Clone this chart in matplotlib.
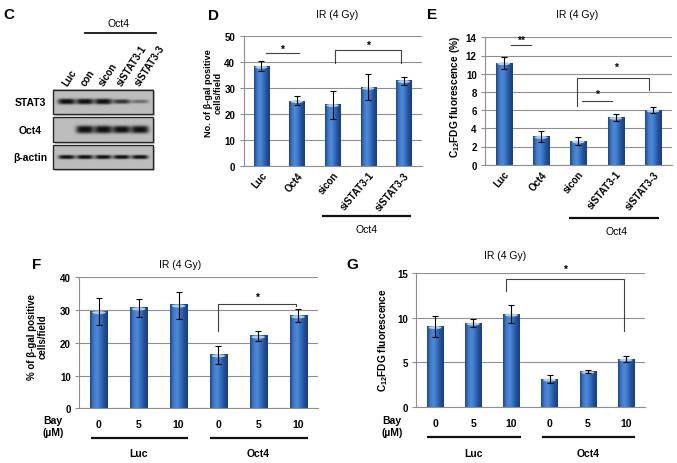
import numpy as np
import matplotlib
matplotlib.use("Agg")
import matplotlib.pyplot as plt
from matplotlib.colors import LinearSegmentedColormap
from matplotlib.patches import Ellipse, Rectangle
import matplotlib.transforms as mtransforms

plt.rcParams['font.family'] = ['Liberation Sans', 'DejaVu Sans']
plt.rcParams['mathtext.fontset'] = 'custom'
plt.rcParams['mathtext.rm'] = 'Liberation Sans'
plt.rcParams['mathtext.bf'] = 'Liberation Sans:bold'

# Daten
d_labels = ['Luc', 'Oct4', 'sicon', 'siSTAT3-1', 'siSTAT3-3']
d_vals = [38.2, 25.0, 23.5, 30.1, 32.7]
d_err = [1.9, 1.8, 5.4, 5.0, 1.6]

e_labels = ['Luc', 'Oct4', 'sicon', 'siSTAT3-1', 'siSTAT3-3']
e_vals = [11.2, 3.1, 2.6, 5.2, 6.0]
e_err = [0.65, 0.65, 0.4, 0.35, 0.35]

bay_doses = ['0', '5', '10', '0', '5', '10']
groups = ['Luc', 'Oct4']
f_vals = [29.5, 30.6, 31.5, 16.3, 22.0, 28.2]
f_err = [4.1, 2.8, 4.1, 2.8, 1.6, 2.0]
g_vals = [9.0, 9.4, 10.4, 3.1, 3.95, 5.35]
g_err = [1.2, 0.45, 1.0, 0.45, 0.15, 0.33]

# Western Blot (relative Bandenstaerke)
blot_lanes = ['Luc', 'con', 'sicon', 'siSTAT3-1', 'siSTAT3-3']
blot_rows = ['STAT3', 'Oct4', 'β-actin']
stat3_band = [1.0, 1.0, 1.0, 0.6, 0.35]
oct4_band = [0.0, 1.0, 1.0, 0.9, 0.95]
actin_band = [0.9, 0.9, 0.9, 0.9, 0.9]

W, H = 677, 464
fig = plt.figure(figsize=(W / 100, H / 100), dpi=100)
fig.patch.set_facecolor('white')


def px(x, y):
    return x / W, 1 - y / H


def ftext(x, y, s, **kw):
    fig.text(*px(x, y), s, **kw)


bar_cmap = LinearSegmentedColormap.from_list(
    'bar', ['#1f4785', '#3f7bcb', '#4e8ad8', '#3470bf', '#234f97', '#1a3f78'])
grad = np.linspace(0, 1, 64).reshape(1, -1)
grid_col = '#8f8f8f'


def bar_axes(rect_px, vals, err, ymax, step, width=0.43):
    left, top, right, bottom = rect_px
    ax = fig.add_axes([left / W, 1 - bottom / H, (right - left) / W, (bottom - top) / H])
    x = np.arange(len(vals))
    cap_h = 3.0 * ymax / (bottom - top)
    for xi, v in zip(x, vals):
        ax.imshow(grad, extent=(xi - width / 2, xi + width / 2, 0, v), aspect='auto',
                  cmap=bar_cmap, zorder=2, interpolation='bilinear')
        ax.add_patch(Ellipse((xi, v - cap_h * 0.3), width * 0.8, cap_h,
                             facecolor='#a8d0f2', edgecolor='none', zorder=3))
    ax.errorbar(x, vals, yerr=err, fmt='none', ecolor='black', elinewidth=0.8,
                capsize=2.3, capthick=0.8, zorder=4)
    ax.set_xlim(-0.5, len(vals) - 0.5)
    ax.set_ylim(0, ymax)
    ax.set_yticks(np.arange(0, ymax + step / 2, step))
    ax.yaxis.grid(True, color=grid_col, lw=0.8)
    ax.set_axisbelow(True)
    for s in ['top', 'right']:
        ax.spines[s].set_visible(False)
    ax.spines['left'].set_color(grid_col)
    ax.spines['bottom'].set_color(grid_col)
    ax.tick_params(axis='y', length=3, width=0.8, color=grid_col, pad=3, labelsize=7)
    ax.tick_params(axis='x', length=0)
    for lab in ax.get_yticklabels():
        lab.set_fontweight('bold')
    ax.set_xticks(x)
    return ax


def bracket(ax, x0, x1, ytop, yl, yr):
    ax.plot([x0, x0, x1, x1], [yl, ytop, ytop, yr], color='#404040', lw=0.8,
            clip_on=False, zorder=5)


def star(ax, x, y, s='*'):
    ax.text(x, y, s, ha='center', va='center', fontsize=7.5, fontweight='bold',
            clip_on=False)


def group_line(ax, x0, x1, yfrac, lw=1.6):
    tr = mtransforms.blended_transform_factory(ax.transData, ax.transAxes)
    ax.plot([x0, x1], [yfrac, yfrac], color='#111111', lw=lw, transform=tr,
            clip_on=False, solid_capstyle='butt')


def group_labels(ax, y_px):
    for k, gname in enumerate(groups):
        group_line(ax, 3 * k - 0.2, 3 * k + 2.24, -0.229)
        xc = ax.transData.transform((3 * k + 1, 0))[0]
        fig.text(xc / (fig.dpi * fig.get_figwidth()), px(0, y_px)[1], gname,
                 ha='center', va='center', fontsize=7.5, fontweight='bold')


# ---------- Panel D ----------
ax_d = bar_axes((243.5, 36.7, 421.7, 166.7), d_vals, d_err, 50, 10)
ax_d.set_xticklabels(d_labels, rotation=50, ha='right', va='top', rotation_mode='anchor',
                     fontsize=7, fontweight='bold')
ax_d.tick_params(axis='x', pad=3)
ax_d.plot([0.13, 1.05], [43.2, 43.2], color='#404040', lw=0.8, clip_on=False)
star(ax_d, 0.58, 45.0)
bracket(ax_d, 2.07, 3.93, 44.5, 39.4, 39.4)
star(ax_d, 3.0, 46.6)
group_line(ax_d, 1.71, 4.19, -0.389)
ftext(366.7, 230, 'Oct4', ha='center', va='center', fontsize=7.5)
ftext(336.7, 15, 'IR (4 Gy)', ha='center', va='center', fontsize=7.5)
ftext(213, 93, 'No. of β-gal positive\ncells/field', ha='center', va='center',
      rotation=90, fontsize=6.6, fontweight='bold', linespacing=1.1)

# ---------- Panel E ----------
ax_e = bar_axes((485, 38.3, 671.7, 165.7), e_vals, e_err, 14, 2)
ax_e.set_xticklabels(e_labels, rotation=50, ha='right', va='top', rotation_mode='anchor',
                     fontsize=7, fontweight='bold')
ax_e.tick_params(axis='x', pad=3)
ax_e.plot([0.2, 0.72], [13.1, 13.1], color='#404040', lw=0.8, clip_on=False)
star(ax_e, 0.46, 13.75, '**')
bracket(ax_e, 1.97, 3.9, 9.5, 6.5, 8.2)
star(ax_e, 3.0, 10.7)
ax_e.plot([2.1, 2.9], [7.0, 7.0], color='#404040', lw=0.8, clip_on=False)
star(ax_e, 2.5, 7.8)
group_line(ax_e, 1.74, 4.16, -0.418)
ftext(616.7, 231.7, 'Oct4', ha='center', va='center', fontsize=7.5)
ftext(577, 15, 'IR (4 Gy)', ha='center', va='center', fontsize=7.5)
ftext(455, 97, r'C$_{\mathbf{12}}$FDG fluorescence (%)', ha='center', va='center',
      rotation=90, fontsize=7.3, fontweight='bold')

# ---------- Panel F ----------
ax_f = bar_axes((79, 278.3, 318, 409.3), f_vals, f_err, 40, 10)
ax_f.set_xticklabels(bay_doses, fontsize=7.5, fontweight='bold')
ax_f.tick_params(axis='x', pad=8)
bracket(ax_f, 3.0, 4.96, 31.9, 23.7, 31.1)
star(ax_f, 3.98, 34.0)
group_labels(ax_f, 454.3)
ftext(52.7, 427, 'Bay\n(µM)', ha='center', va='center', fontsize=7.5, fontweight='bold',
      linespacing=1.35)
ftext(180, 265, 'IR (4 Gy)', ha='center', va='center', fontsize=7.5)
ftext(37.5, 337, '% of β-gal positive\ncells/field', ha='center', va='center',
      rotation=90, fontsize=7, fontweight='bold', linespacing=1.15)

# ---------- Panel G ----------
ax_g = bar_axes((416, 274.3, 645, 407.7), g_vals, g_err, 15, 5)
ax_g.set_xticklabels(bay_doses, fontsize=7.5, fontweight='bold')
ax_g.tick_params(axis='x', pad=8)
bracket(ax_g, 1.86, 4.94, 14.36, 13.05, 8.5)
star(ax_g, 3.4, 15.55)
group_labels(ax_g, 454)
ftext(391.7, 427, 'Bay\n(µM)', ha='center', va='center', fontsize=7.5, fontweight='bold',
      linespacing=1.35)
ftext(505, 256, 'IR (4 Gy)', ha='center', va='center', fontsize=7.5)
ftext(383.5, 340, r'C$_{\mathbf{12}}$FDG fluorescence', ha='center', va='center',
      rotation=90, fontsize=7.3, fontweight='bold')

# ---------- Panel C: Western Blot ----------
ov = fig.add_axes([0, 0, 1, 1], zorder=-1)
ov.axis('off')

box_x0, box_x1 = 53.3, 153.3
lane0, lane_step = 66.7, 18.2
lane_x = lane0 + lane_step * np.arange(len(blot_lanes))
row_boxes = [(90.7, 115.0), (118.3, 143.3), (146.0, 170.0)]
row_bands = [stat3_band, oct4_band, actin_band]
band_hh = [2.8, 4.0, 2.2]
band_hw = [8.6, 8.8, 8.2]

for (y0, y1), inten, hh, hw, rname in zip(row_boxes, row_bands, band_hh, band_hw, blot_rows):
    xs = np.linspace(box_x0, box_x1, 300)
    ys = np.linspace(y0, y1, 80)
    X, Y = np.meshgrid(xs, ys)
    cy = (y0 + y1) / 2
    img = np.full_like(X, 0.74)
    for cx, a in zip(lane_x, inten):
        hscale = 0.5 + 0.5 * a
        img -= 0.68 * min(1.0, a * 1.3) * np.exp(-((X - cx) / hw) ** 4) * \
            np.exp(-np.abs((Y - cy) / (hh * hscale)) ** 3)
    img = np.clip(img, 0, 1)
    ov.add_patch(Rectangle((box_x0 + 1.5, y0 + 1.5), box_x1 - box_x0, y1 - y0,
                           facecolor='#c8c8c8', edgecolor='none', zorder=1))
    ov.imshow(img, extent=(box_x0, box_x1, y1, y0), cmap='gray', vmin=0, vmax=1,
              aspect='auto', zorder=2, interpolation='bilinear')
    ov.add_patch(Rectangle((box_x0, y0), box_x1 - box_x0, y1 - y0, fill=False,
                           edgecolor='#262626', lw=1.0, zorder=3))
    ov.text(30, cy, rname, ha='center', va='center', fontsize=7.5, fontweight='bold')

for lx, lname in zip(lane_x, blot_lanes):
    ov.text(lx - 2, 85, lname, rotation=57, ha='left', va='center',
            rotation_mode='anchor', fontsize=7, fontweight='bold')
ov.plot([lane_x[1], lane_x[-1] + 16], [34, 34], color='#111111', lw=1.3)
ov.text(118, 24, 'Oct4', ha='center', va='center', fontsize=7.5)

ov.set_xlim(0, W)
ov.set_ylim(H, 0)

# Panel-Buchstaben
for letter, (lx, ly) in zip('CDEFG', [(9, 15), (213, 16), (432, 15), (37, 265), (352, 265)]):
    ftext(lx, ly, letter, ha='center', va='center', fontsize=11, fontweight='bold')

fig.savefig('out.png', dpi=100)
